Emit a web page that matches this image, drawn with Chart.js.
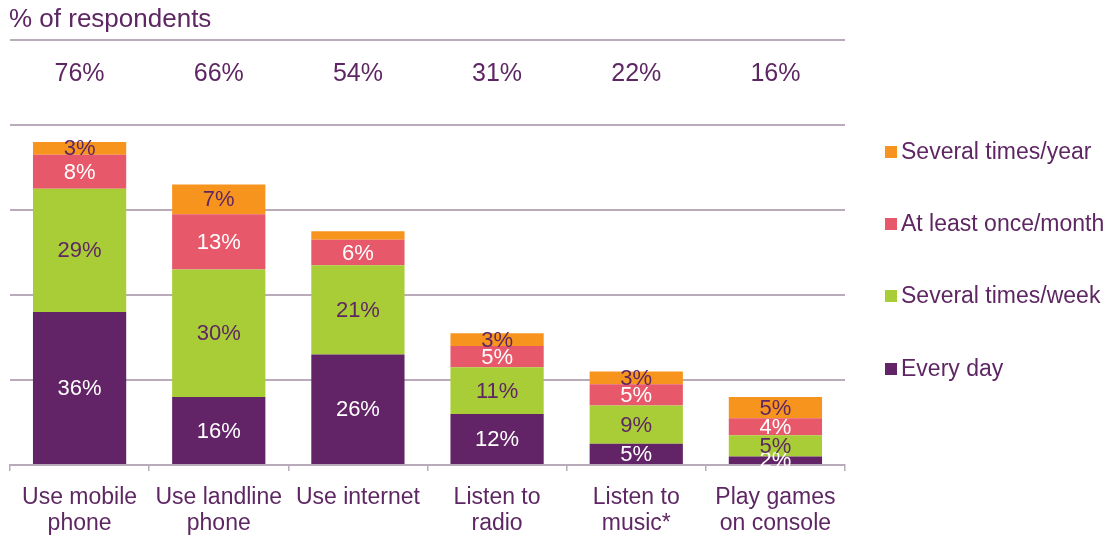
<!DOCTYPE html>
<html>
<head>
<meta charset="utf-8">
<script src="https://cdn.jsdelivr.net/npm/chart.js@4/dist/chart.umd.min.js"></script>
<style>
  html, body { margin: 0; padding: 0; background: #fff; }
  #wrap { width: 1115px; height: 538px; position: relative; }
</style>
</head>
<body>
<div id="wrap"><canvas id="chart"></canvas></div>
<script>
const categories = [
    ['Use mobile', 'phone'],
    ['Use landline', 'phone'],
    ['Use internet'],
    ['Listen to', 'radio'],
    ['Listen to', 'music*'],
    ['Play games', 'on console']
];
const totals = ['76%', '66%', '54%', '31%', '22%', '16%'];

const everyDay      = [36, 16, 26, 12, 5, 2];
const severalWeek   = [29, 30, 21, 11, 9, 5];
const onceMonth     = [8, 13, 6, 5, 5, 4];
const severalYear   = [3, 7, 2, 3, 3, 5];
// segments drawn without a value label in the original
const unlabeled = { 'Several times/year': [2] };

const PURPLE_TEXT = '#5e2763';
const GRID = '#b9abb9';
const FONT = 'Arial, "Liberation Sans", sans-serif';

const datasets = [
    { label: 'Every day', data: everyDay, backgroundColor: '#622466', textColor: '#ffffff' },
    { label: 'Several times/week', data: severalWeek, backgroundColor: '#a9cd36', textColor: PURPLE_TEXT },
    { label: 'At least once/month', data: onceMonth, backgroundColor: '#e6586a', textColor: '#ffffff' },
    { label: 'Several times/year', data: severalYear, backgroundColor: '#f7941e', textColor: PURPLE_TEXT }
];

// value labels, totals row, title and right-hand legend
const decorations = {
    id: 'decorations',
    afterDatasetsDraw(chart) {
        const ctx = chart.ctx;
        const area = chart.chartArea;
        const xScale = chart.scales.x;
        ctx.save();
        ctx.textAlign = 'center';
        ctx.textBaseline = 'middle';
        ctx.font = '22px ' + FONT;

        chart.data.datasets.forEach((ds, di) => {
            const meta = chart.getDatasetMeta(di);
            const skip = unlabeled[ds.label] || [];
            meta.data.forEach((bar, i) => {
                if (skip.includes(i)) return;
                const y = (bar.y + bar.base) / 2;
                ctx.fillStyle = ds.textColor;
                ctx.fillText(ds.data[i] + '%', bar.x, y + 1);
            });
        });

        // totals above the bars
        ctx.fillStyle = PURPLE_TEXT;
        ctx.font = '25px ' + FONT;
        totals.forEach((t, i) => {
            ctx.fillText(t, xScale.getPixelForValue(i), 74);
        });

        // title and rule
        ctx.textAlign = 'left';
        ctx.font = '26px ' + FONT;
        ctx.fillText('% of respondents', 9, 20);
        ctx.strokeStyle = GRID;
        ctx.lineWidth = 2;
        ctx.beginPath();
        ctx.moveTo(area.left, 40);
        ctx.lineTo(area.right, 40);
        ctx.stroke();

        // legend, top item = last dataset
        ctx.font = '23px ' + FONT;
        const legendY = [152, 224, 296, 369];
        const order = chart.data.datasets.slice().reverse();
        order.forEach((ds, k) => {
            const y = legendY[k];
            ctx.fillStyle = ds.backgroundColor;
            ctx.fillRect(885, y - 6, 12, 12);
            ctx.fillStyle = PURPLE_TEXT;
            ctx.fillText(ds.label, 901, y + 1);
        });
        ctx.restore();
    }
};

new Chart(document.getElementById('chart'), {
    type: 'bar',
    data: { labels: categories, datasets: datasets },
    options: {
        responsive: true,
        maintainAspectRatio: false,
        animation: false,
        datasets: { bar: { categoryPercentage: 1, barPercentage: 0.67 } },
        layout: { padding: { left: 10, right: 270, top: 125, bottom: 0 } },
        plugins: {
            legend: { display: false },
            tooltip: { enabled: false }
        },
        scales: {
            x: {
                stacked: true,
                grid: { display: true, drawOnChartArea: false, drawTicks: true, tickLength: 6, color: GRID, lineWidth: 1.5 },
                border: { display: true, color: GRID, width: 2 },
                ticks: {
                    color: PURPLE_TEXT,
                    font: { family: FONT, size: 23, lineHeight: 1.13 },
                    padding: 14,
                    maxRotation: 0,
                    autoSkip: false
                },
                afterFit(scale) { scale.height = 73; }
            },
            y: {
                stacked: true,
                min: 0,
                max: 80,
                ticks: { display: false, stepSize: 20 },
                grid: { color: GRID, lineWidth: 2, drawTicks: false },
                border: { display: false },
                afterFit(scale) { scale.width = 0; }
            }
        }
    },
    plugins: [decorations]
});
</script>
</body>
</html>
